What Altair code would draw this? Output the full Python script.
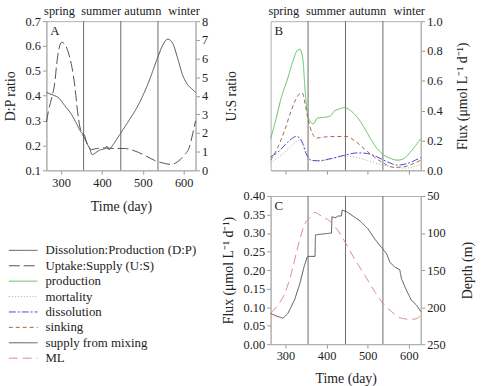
import altair as alt
import pandas as pd

FONT = "Liberation Serif"
X_DOMAIN = [264, 629]
x_ticks = [300, 400, 500, 600]
season_bounds = [355, 446, 537]
season_names = ["spring", "summer", "autumn", "winter"]
season_label_days = [296, 398, 500, 601]

series_names = ["Dissolution:Production (D:P)", "Uptake:Supply (U:S)", "production",
                "mortality", "dissolution", "sinking", "supply from mixing", "ML"]
series_colors = ["#505050", "#505050", "#5cc15c", "#a8a8a8", "#4a4ad2", "#a0664a", "#505050", "#e08a8a"]
series_dashes = [[1, 0], [11, 4], [1, 0], [1, 2], [7, 2, 2, 2], [4, 3], [1, 0], [9, 5]]
series_widths = [1, 1, 1.4, 1, 1.2, 1, 1, 1.2]

# Panel A
dp_day = [264, 281, 293, 309, 325, 338, 350, 356, 362, 370, 376, 382, 394, 407, 412, 417, 423,
          442, 463, 488, 512, 536, 549, 561, 573, 585, 597, 609, 621, 629]
dp_val = [0.413, 0.402, 0.393, 0.360, 0.326, 0.287, 0.251, 0.245, 0.214, 0.187, 0.163, 0.168,
          0.181, 0.188, 0.197, 0.183, 0.194, 0.240, 0.293, 0.360, 0.446, 0.552, 0.605, 0.628,
          0.611, 0.552, 0.485, 0.446, 0.426, 0.413]
us_day = [264, 269, 277, 285, 289, 295, 301, 310, 318, 326, 334, 340, 346, 352, 358, 366, 374,
          386, 407, 431, 455, 480, 504, 528, 553, 569, 585, 601, 614, 622, 629]
us_val = [2.58, 3.19, 3.9, 4.79, 5.67, 6.55, 6.87, 6.73, 6.29, 5.58, 4.43, 3.19, 2.32, 1.96,
          1.69, 1.34, 1.11, 1.17, 1.2, 1.17, 1.17, 1.04, 0.81, 0.54, 0.37, 0.32, 0.46, 0.81,
          1.26, 1.96, 2.66]

# Panel B
prod_day = [264, 274, 290, 306, 318, 330, 335, 342, 348, 354, 362, 368, 378, 394, 410, 418, 430,
            443, 459, 475, 491, 507, 523, 540, 556, 572, 588, 604, 620, 629]
prod_val = [0.212, 0.311, 0.488, 0.62, 0.73, 0.808, 0.812, 0.753, 0.532, 0.377, 0.322, 0.311,
            0.351, 0.355, 0.366, 0.395, 0.41, 0.42, 0.399, 0.355, 0.289, 0.212, 0.146, 0.101,
            0.079, 0.068, 0.079, 0.123, 0.179, 0.212]
mort_day = [264, 282, 306, 326, 336, 344, 352, 362, 380, 411, 443, 470, 500, 530, 560, 590, 610, 629]
mort_val = [0.05, 0.085, 0.14, 0.19, 0.205, 0.175, 0.11, 0.07, 0.062, 0.075, 0.095, 0.088,
            0.065, 0.04, 0.022, 0.015, 0.022, 0.04]
diss_day = [264, 282, 306, 326, 334, 342, 350, 362, 378, 411, 443, 475, 499, 523, 548, 572,
            596, 616, 629]
diss_val = [0.09, 0.123, 0.19, 0.227, 0.219, 0.179, 0.113, 0.068, 0.064, 0.079, 0.101, 0.117,
            0.113, 0.09, 0.057, 0.035, 0.046, 0.068, 0.086]
sink_day = [264, 282, 298, 314, 330, 341, 348, 354, 366, 374, 394, 427, 447, 467, 491, 515,
            540, 564, 588, 608, 629]
sink_val = [0.068, 0.157, 0.267, 0.399, 0.499, 0.52, 0.444, 0.355, 0.245, 0.216, 0.223, 0.227,
            0.227, 0.201, 0.146, 0.091, 0.046, 0.02, 0.024, 0.042, 0.068]

# Panel C
sup_day = [264, 278, 294, 306, 322, 335, 345, 353, 357, 372, 373, 387, 412, 413, 421, 428, 436,
           438, 448, 464, 481, 501, 517, 533, 546, 554, 566, 578, 582, 594, 606, 619, 629]
sup_val = [0.083, 0.076, 0.070, 0.083, 0.119, 0.163, 0.208, 0.235, 0.237, 0.237, 0.295, 0.297,
           0.30, 0.344, 0.341, 0.346, 0.346, 0.362, 0.358, 0.346, 0.333, 0.311, 0.284, 0.262,
           0.244, 0.221, 0.208, 0.201, 0.177, 0.146, 0.119, 0.105, 0.088]
ml_day = [264, 282, 298, 314, 330, 347, 359, 371, 387, 408, 428, 448, 468, 493, 517, 537, 558,
          582, 606, 622, 629]
ml_val = [208, 197, 182, 155, 119, 88, 79, 72, 77, 84, 97, 115, 135, 157, 179, 195, 206, 215,
          216.5, 215, 208]


def frame(name, days, vals):
    return pd.DataFrame({"day": days, "value": vals, "series": name})


color_enc = alt.Color("series:N", scale=alt.Scale(domain=series_names, range=series_colors), legend=None)
dash_enc = alt.StrokeDash("series:N", scale=alt.Scale(domain=series_names, range=series_dashes), legend=None)
width_enc = alt.StrokeWidth("series:N", scale=alt.Scale(domain=series_names, range=series_widths), legend=None)


def xenc(axis):
    return alt.X("day:Q", scale=alt.Scale(domain=X_DOMAIN, nice=False, zero=False), axis=axis)


ax_time_A = alt.Axis(values=x_ticks, title="Time (day)", titlePadding=11, labelFlush=False)
ax_time_C = alt.Axis(values=x_ticks, title="Time (day)", titlePadding=9, labelFlush=False)
ax_ticks_only = alt.Axis(values=x_ticks, labels=False, title=None)


def lines(df, y, interp="monotone"):
    return alt.Chart(df).mark_line(interpolate=interp).encode(
        x=xenc(None), y=y, color=color_enc, strokeDash=dash_enc, strokeWidth=width_enc)


def common_layers(xaxis, letter, with_seasons):
    rules = alt.Chart(pd.DataFrame({"day": season_bounds})).mark_rule(
        color="#6a6a6a", strokeWidth=1).encode(x=xenc(xaxis))
    let = alt.Chart(pd.DataFrame({"t": [letter]})).mark_text(
        align="left", baseline="top", font=FONT, fontSize=13, color="#222").encode(
        x=alt.value(4), y=alt.value(4), text="t:N")
    layers = [rules, let]
    if with_seasons:
        lab = alt.Chart(pd.DataFrame({"day": season_label_days, "name": season_names})).mark_text(
            baseline="alphabetic", font=FONT, fontSize=12.5, color="#222").encode(
            x=xenc(xaxis), y=alt.value(-6), text="name:N")
        layers.append(lab)
    return layers


def with_x(ch, axis):
    return ch.encode(x=xenc(axis))


# Panel A
yA_left = alt.Y("value:Q", scale=alt.Scale(domain=[0.1, 0.7], nice=False, zero=False),
                axis=alt.Axis(orient="left", values=[0.1, 0.2, 0.3, 0.4, 0.5, 0.6, 0.7], format=".1f",
                              title="D:P ratio", titlePadding=8))
yA_right = alt.Y("value:Q", scale=alt.Scale(domain=[0, 8], nice=False),
                 axis=alt.Axis(orient="right", values=list(range(0, 9)), format="d",
                               title="U:S ratio", titleAngle=270, titleBaseline="top",
                               titlePadding=17, labelPadding=2))
A = alt.layer(
    *common_layers(ax_time_A, "A", True),
    with_x(lines(frame(series_names[0], dp_day, dp_val), yA_left), ax_time_A),
    with_x(lines(frame(series_names[1], us_day, us_val), yA_right), ax_time_A),
).resolve_scale(y="independent").properties(width=151, height=151)

# Panel B
yB = alt.Y("value:Q", scale=alt.Scale(domain=[0, 1], nice=False),
           axis=alt.Axis(orient="right", values=[0, 0.2, 0.4, 0.6, 0.8, 1.0], format=".1f",
                         title="Flux (μmol L⁻¹ d⁻¹)", titleAngle=270, titleBaseline="top",
                         titlePadding=14))
dfB = pd.concat([frame(series_names[2], prod_day, prod_val),
                 frame(series_names[3], mort_day, mort_val),
                 frame(series_names[4], diss_day, diss_val),
                 frame(series_names[5], sink_day, sink_val)])
B = alt.layer(
    *common_layers(ax_ticks_only, "B", True),
    with_x(lines(dfB, yB), ax_ticks_only),
).properties(width=152, height=151)

# Panel C
yC_left = alt.Y("value:Q", scale=alt.Scale(domain=[0, 0.4], nice=False),
                axis=alt.Axis(orient="left", values=[0, 0.05, 0.1, 0.15, 0.2, 0.25, 0.3, 0.35, 0.4],
                              format=".2f", title="Flux (μmol L⁻¹ d⁻¹)", titlePadding=8))
yC_right = alt.Y("value:Q", scale=alt.Scale(domain=[50, 250], nice=False, zero=False, reverse=True),
                 axis=alt.Axis(orient="right", values=[50, 100, 150, 200, 250], format="d",
                               title="Depth (m)", titleAngle=270, titleBaseline="top",
                               titlePadding=16))
C = alt.layer(
    *common_layers(ax_time_C, "C", False),
    with_x(lines(frame(series_names[6], sup_day, sup_val), yC_left, "linear"), ax_time_C),
    with_x(lines(frame(series_names[7], ml_day, ml_val), yC_right), ax_time_C),
).resolve_scale(y="independent").properties(width=152, height=150)

# Legend (sits in the grid cell left of panel C; rows start ~55 px below its top, 15.6 px apart)
df_leg = pd.DataFrame({"series": series_names, "idx": list(range(len(series_names)))})
yL = alt.Y("idx:Q", scale=alt.Scale(domain=[-3.53, 6.09], reverse=True, nice=False, zero=False), axis=None)
leg_sym = alt.Chart(df_leg).mark_rule().encode(
    x=alt.value(-38), x2=alt.value(-9), y=yL, color=color_enc, strokeDash=dash_enc, strokeWidth=width_enc)
leg_txt = alt.Chart(df_leg).mark_text(align="left", baseline="middle", font=FONT, fontSize=13,
                                      color="#222").encode(x=alt.value(-1), y=yL, text="series:N")
legend = alt.layer(leg_sym, leg_txt).properties(width=151, height=150, view={"stroke": "transparent"})

chart = alt.concat(A, B, legend, C, columns=2, bounds="flush",
                   spacing={"row": 26, "column": 76}).properties(
    padding={"left": 2, "top": 2, "right": 5, "bottom": 5}
).configure_view(stroke="#b0b0b0", strokeWidth=1).configure_axis(
    labelFont=FONT, titleFont=FONT, labelFontSize=12.5, titleFontSize=14, titleFontWeight="normal",
    labelColor="#222", titleColor="#222", domainColor="#b0b0b0", tickColor="#999", tickSize=4,
    grid=False, labelOverlap=False
)

chart.save("out.html", embed_options={"renderer": "svg", "actions": False})
